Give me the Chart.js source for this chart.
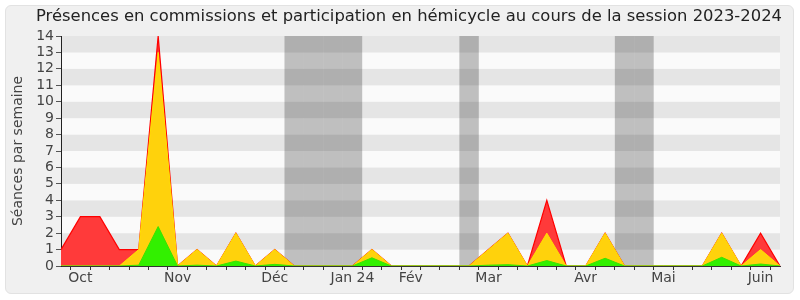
<!DOCTYPE html>
<html>
<head>
<meta charset="utf-8">
<script src="https://cdn.jsdelivr.net/npm/chart.js@4/dist/chart.umd.min.js"></script>
<style>
  html, body { margin: 0; padding: 0; background: #ffffff; }
  #frame { position: absolute; left: 5px; top: 5px; width: 787px; height: 287px;
           background: #f0f0f0; border: 1px solid #e2e2e2; border-radius: 6px; }
  #wrap { position: absolute; left: 0; top: 0; width: 800px; height: 300px; }
</style>
</head>
<body>
<div id="frame"></div>
<div id="wrap"><canvas id="c" width="800" height="300"></canvas></div>
<script>
const titleText = "Présences en commissions et participation en hémicycle au cours de la session 2023-2024";
const yTitle = "Séances par semaine";

const weekLabels = ["", "Oct", "", "", "", "", "Nov", "", "", "", "",
  "Déc", "", "", "", "Jan 24", "", "", "Fév", "", "", "",
  "Mar", "", "", "", "", "Avr", "", "", "", "Mai", "", "", "", "", "Juin", ""];

// total presence (red)
const totalValues = [1, 3, 3, 1, 1, 14, 0, 1, 0, 2, 0,
  1, 0, 0, 0, 0, 1, 0, 0, 0, 0, 0,
  1, 2, 0, 4, 0, 0, 2, 0, 0, 0, 0, 0, 2, 0, 2, 0];
// hémicycle (yellow)
const hemicycleValues = [0, 0, 0, 0, 1, 13, 0, 1, 0, 2, 0,
  1, 0, 0, 0, 0, 1, 0, 0, 0, 0, 0,
  1, 2, 0, 2, 0, 0, 2, 0, 0, 0, 0, 0, 2, 0, 1, 0];
// interventions (green)
const greenValues = [0, 0, 0, 0, 0.05, 2.4, 0, 0.05, 0, 0.3, 0,
  0.1, 0, 0, 0, 0, 0.5, 0, 0, 0, 0, 0,
  0.05, 0.08, 0, 0.33, 0, 0, 0.47, 0, 0, 0, 0, 0, 0.53, 0, 0.12, 0];
// parliamentary breaks (grey bands), full height
const breakValues = [null, null, null, null, null, null, null, null, null, null, null,
  null, 14, 14, 14, 14, null, null, null, null, null, 14,
  null, null, null, null, null, null, null, 14, 14, null, null, null, null, null, null, null];

const yMin = 0, yMax = 14;

const stripes = {
  id: 'stripes',
  beforeDraw(chart) {
    const {ctx, chartArea: a, scales: {y}} = chart;
    ctx.save();
    for (let i = yMin; i < yMax; i++) {
      const top = y.getPixelForValue(i + 1), bot = y.getPixelForValue(i);
      ctx.fillStyle = (i % 2 === 1) ? '#e5e5e5' : '#fafafa';
      ctx.fillRect(a.left, top, a.right - a.left, bot - top);
    }
    ctx.restore();
  }
};

const titlePlugin = {
  id: 'customTitle',
  afterDraw(chart) {
    const ctx = chart.ctx;
    ctx.save();
    ctx.font = '16.4px "DejaVu Sans"';
    ctx.fillStyle = '#222';
    ctx.textAlign = 'center';
    ctx.textBaseline = 'middle';
    ctx.fillText(titleText, 409, 17);
    ctx.restore();
  }
};

new Chart(document.getElementById('c'), {
  type: 'line',
  data: {
    labels: weekLabels,
    datasets: [
      { type: 'line', data: greenValues, order: 0, fill: 'origin',
        backgroundColor: 'rgb(50,240,0)', borderColor: 'rgb(60,225,0)', borderWidth: 1,
        pointRadius: 0, tension: 0 },
      { type: 'line', data: hemicycleValues, order: 1, fill: 'origin',
        backgroundColor: 'rgb(255,210,12)', borderColor: 'rgb(255,225,0)', borderWidth: 1,
        pointRadius: 0, tension: 0 },
      { type: 'line', data: totalValues, order: 2, fill: 'origin',
        backgroundColor: 'rgb(255,58,58)', borderColor: 'rgb(255,0,0)', borderWidth: 1.2,
        pointRadius: 0, tension: 0 },
      { type: 'bar', data: breakValues, order: 3,
        backgroundColor: 'rgba(0,0,0,0.235)', borderWidth: 0,
        barPercentage: 1, categoryPercentage: 1, inflateAmount: 0 }
    ]
  },
  options: {
    responsive: false,
    animation: false,
    layout: { padding: { left: 6, right: 20, top: 36, bottom: 0 } },
    plugins: { legend: { display: false }, tooltip: { enabled: false }, title: { display: false } },
    scales: {
      x: {
        type: 'category',
        offset: false,
        grid: { display: true, drawOnChartArea: false, drawTicks: true, tickLength: 4, color: '#333' },
        border: { display: true, color: '#333' },
        ticks: { autoSkip: false, maxRotation: 0, minRotation: 0, padding: 0,
                 font: { family: 'DejaVu Sans', size: 14 }, color: '#444' },
        afterFit(s) { s.height = 34; }
      },
      y: {
        min: yMin, max: yMax,
        grid: { display: true, drawOnChartArea: false, drawTicks: true, tickLength: 5, color: '#555' },
        border: { display: true, color: '#222' },
        ticks: { stepSize: 1, autoSkip: false, padding: 2, font: { family: 'DejaVu Sans', size: 14 }, color: '#444' },
        title: { display: true, text: yTitle, font: { family: 'DejaVu Sans', size: 14 }, color: '#444',
                 padding: { top: 4, bottom: 4 } },
        afterFit(s) { s.width = 55; }
      }
    }
  },
  plugins: [stripes, titlePlugin]
});
</script>
</body>
</html>
